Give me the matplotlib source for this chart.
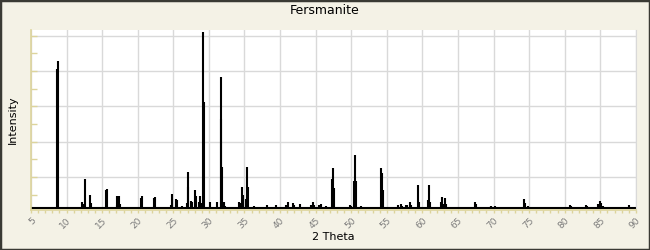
import numpy as np
import matplotlib.pyplot as plt

# peak positions (2 theta) and relative intensities
two_theta = [8.6, 8.75, 12.2, 12.4, 12.63, 13.33, 13.47, 14.35, 14.5, 15.58, 15.72,
             17.03, 17.12, 17.36, 17.5, 20.4, 20.55, 22.27, 22.42, 24.62, 24.76,
             25.41, 25.55, 26.17, 26.87, 27.0, 27.1, 27.5, 27.65, 28.07, 28.2,
             28.64, 28.78, 29.06, 29.16, 29.25, 30.14, 30.28, 31.1, 31.64, 31.73,
             31.83, 32.15, 32.29, 34.26, 34.4, 34.68, 34.82, 35.24, 35.38, 35.52,
             36.4, 37.6, 38.1, 39.37, 40.07, 40.9, 41.05, 41.75, 41.9, 42.74,
             44.28, 44.57, 44.71, 45.4, 45.55, 45.69, 46.4, 47.3, 47.46, 47.6,
             48.35, 49.85, 49.99, 50.4, 50.55, 50.69, 51.4, 52.2, 53.8, 54.2,
             54.34, 54.48, 55.2, 55.9, 56.6, 57.0, 57.14, 57.7, 57.9, 58.2, 58.34,
             59.4, 59.54, 60.8, 60.94, 61.08, 62.6, 62.7, 62.98, 63.12, 63.26,
             67.4, 67.54, 69.65, 69.7, 70.27, 70.5, 71.6, 72.2, 74.33, 74.47,
             74.89, 75.03, 79.7, 80.7, 80.84, 81.9, 83.05, 83.19, 84.73, 85.0,
             85.15, 85.43, 88.99, 89.13]
intensity = [79.0, 83.5, 3.6, 2.3, 16.6, 7.5, 3.2, 0.7, 0.7, 10.4, 10.9,
             1.9, 7.0, 7.0, 2.6, 5.8, 7.0, 5.8, 6.4, 1.9, 8.3,
             5.3, 4.7, 1.3, 2.8, 20.6, 12.1, 4.1, 3.6, 10.5, 7.0,
             3.6, 7.0, 3.0, 100.0, 60.5, 3.8, 0.7, 3.8, 50.5, 74.6,
             23.6, 3.8, 1.5, 3.6, 2.8, 12.1, 7.5, 5.3, 23.2, 12.1,
             1.3, 0.7, 1.9, 1.9, 0.7, 1.9, 3.6, 3.0, 1.9, 2.5,
             1.9, 3.6, 1.9, 1.9, 1.9, 2.5, 1.3, 16.6, 22.8, 11.5,
             0.7, 1.9, 1.3, 15.5, 30.3, 15.5, 1.3, 0.7, 0.7, 22.8,
             20.2, 10.4, 0.7, 0.7, 1.9, 2.5, 1.3, 1.9, 1.9, 3.6, 1.9,
             13.2, 3.6, 4.7, 13.2, 3.6, 3.6, 6.4, 2.5, 5.8, 2.5,
             3.6, 2.5, 1.3, 1.3, 1.3, 0.9, 0.9, 0.7, 5.1, 3.2,
             1.3, 0.9, 0.9, 1.9, 1.3, 0.9, 1.9, 1.5, 2.4, 4.1,
             3.2, 1.3, 1.7, 0.9]

x_ticks = np.arange(5, 91, 5)

bg = "#f4f2e6"
yellow = "#ddd49c"
grid = "#d9d9d9"

fig = plt.figure(figsize=(6.5, 2.5), dpi=100, facecolor=bg)
fig.patches.append(plt.Rectangle((0, 0), 1, 1, transform=fig.transFigure,
                                 fill=False, edgecolor="#3a3a34", linewidth=2.5))

ax = fig.add_axes([0.0477, 0.162, 0.9306, 0.718])
ax.set_facecolor("white")

ax.vlines(two_theta, 0, intensity, color="black", linewidth=1.5)
ax.axhline(0, color="black", linewidth=1.5)

ax.set_xlim(5, 90)
ax.set_ylim(-0.7, 101.1)

ax.set_xticks(x_ticks)
ax.set_xticks(np.arange(5, 91, 1), minor=True)
ax.set_xticklabels([str(t) for t in x_ticks], rotation=45, ha="right",
                   rotation_mode="anchor", fontsize=6.5, color="#7a7a7a")
ax.set_yticks(np.arange(17.8, 101, 20))
ax.set_yticks(np.arange(7.8, 101, 10), minor=True)
ax.set_yticklabels([])

ax.tick_params(axis="x", which="both", direction="out", length=2.5,
               color=yellow, width=1, pad=2)
ax.tick_params(axis="y", which="both", direction="in", length=4,
               color=yellow, width=1)

ax.grid(True, which="major", color=grid, linewidth=1)
ax.set_axisbelow(True)

for s in ["top"]:
    ax.spines[s].set_visible(False)
ax.spines["right"].set_color(grid)
ax.spines["left"].set_color(yellow)
ax.spines["bottom"].set_color(yellow)
ax.spines["left"].set_linewidth(1.2)
ax.spines["bottom"].set_linewidth(1.2)

fig.text(0.5, 0.958, "Fersmanite", ha="center", va="center", fontsize=9)
ax.set_xlabel("2 Theta", fontsize=8, labelpad=1)
ax.set_ylabel("Intensity", fontsize=8, labelpad=6)

fig.savefig("out.png", dpi=100, facecolor=bg)
